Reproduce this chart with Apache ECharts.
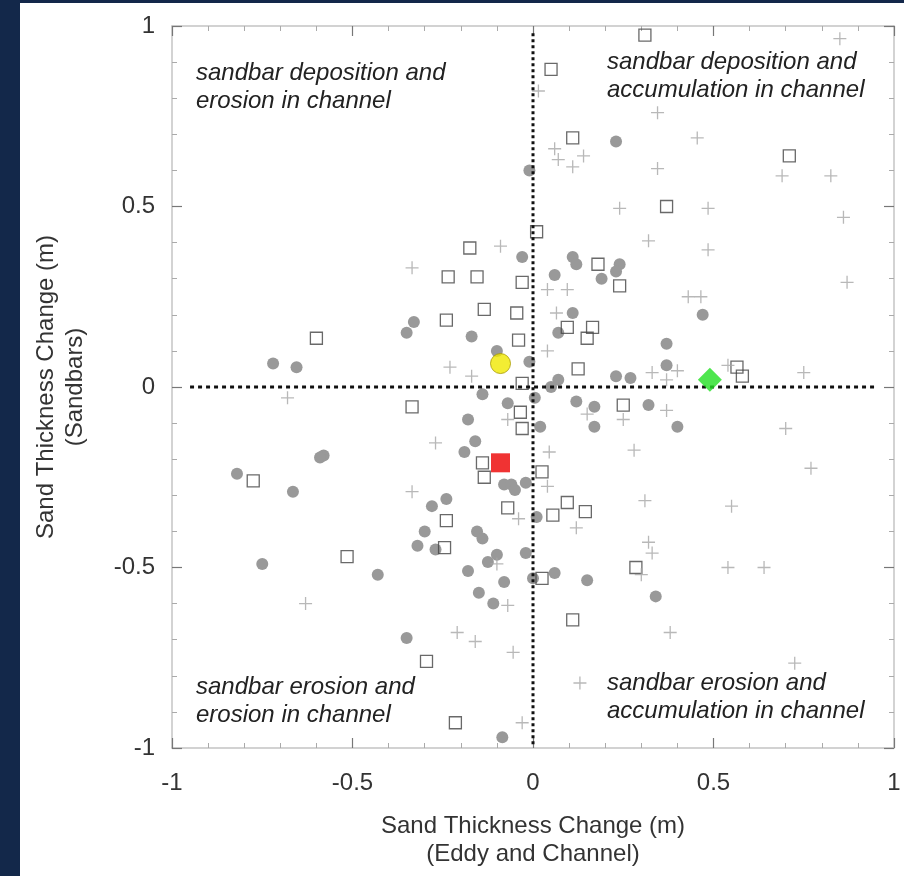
<!DOCTYPE html>
<html><head><meta charset="utf-8">
<script src="https://cdn.jsdelivr.net/npm/echarts/dist/echarts.min.js"></script>
<style>
html,body{margin:0;padding:0;background:#13284a;width:904px;height:876px;overflow:hidden}
#c{position:absolute;left:20px;top:3px;width:884px;height:873px;background:#fff}
</style>
</head><body><div id="c"></div>
<script>
// ---- data (x: eddy & channel change, y: sandbar change), metres ----
const grayCircles = [
 [0.23,0.68],[-0.01,0.60],[-0.03,0.36],[0.11,0.36],[0.12,0.34],[0.06,0.31],[0.19,0.30],[0.24,0.34],[0.23,0.32],
 [0.47,0.20],[0.37,0.12],[0.37,0.06],[0.23,0.03],[0.27,0.025],[0.32,-0.05],[0.40,-0.11],[0.34,-0.58],[0.11,0.205],
 [-0.33,0.18],[-0.35,0.15],[-0.17,0.14],[0.07,0.15],[-0.655,0.055],[-0.72,0.065],[-0.10,0.10],[-0.01,0.07],
 [0.07,0.02],[0.05,0.00],[-0.14,-0.02],[-0.07,-0.045],[0.005,-0.03],[0.12,-0.04],[0.17,-0.055],[-0.18,-0.09],
 [0.02,-0.11],[0.17,-0.11],[-0.16,-0.15],[-0.58,-0.19],[-0.59,-0.195],[-0.19,-0.18],[-0.08,-0.27],[-0.06,-0.27],
 [-0.05,-0.285],[-0.02,-0.265],[-0.28,-0.33],[-0.24,-0.31],[0.01,-0.36],[-0.30,-0.40],[-0.155,-0.40],[-0.14,-0.42],
 [-0.32,-0.44],[-0.27,-0.45],[-0.02,-0.46],[-0.125,-0.485],[-0.10,-0.465],[-0.18,-0.51],[-0.43,-0.52],[0.00,-0.53],
 [0.06,-0.515],[0.15,-0.535],[-0.08,-0.54],[-0.15,-0.57],[-0.11,-0.60],[-0.82,-0.24],[-0.665,-0.29],[-0.75,-0.49],
 [-0.35,-0.695],[-0.085,-0.97]
];
const openSquares = [
 [0.05,0.88],[0.11,0.69],[0.01,0.43],[-0.175,0.385],[-0.235,0.305],[-0.155,0.305],[-0.03,0.29],[0.18,0.34],
 [0.31,0.975],[0.71,0.64],[0.37,0.50],[0.24,0.28],[0.58,0.03],[0.565,0.055],[0.25,-0.05],[0.285,-0.50],
 [-0.135,0.215],[-0.045,0.205],[-0.24,0.185],[-0.60,0.135],[-0.04,0.13],[0.095,0.165],[0.15,0.135],[0.165,0.165],
 [0.125,0.05],[-0.03,0.01],[-0.335,-0.055],[-0.035,-0.07],[-0.03,-0.115],[-0.14,-0.21],[-0.135,-0.25],[0.025,-0.235],
 [-0.07,-0.335],[0.095,-0.32],[0.145,-0.345],[0.055,-0.355],[-0.24,-0.37],[-0.245,-0.445],[-0.515,-0.47],
 [0.025,-0.53],[-0.775,-0.26],[-0.295,-0.76],[-0.215,-0.93],[0.11,-0.645]
];
const plusSigns = [
 [0.015,0.82],[0.06,0.66],[0.07,0.63],[0.14,0.64],[0.11,0.61],[-0.09,0.39],[-0.335,0.33],[0.04,0.27],[0.095,0.27],
 [0.85,0.965],[0.345,0.76],[0.455,0.69],[0.345,0.605],[0.69,0.585],[0.825,0.585],[0.24,0.495],[0.485,0.495],
 [0.86,0.47],[0.32,0.405],[0.485,0.38],[0.43,0.25],[0.465,0.25],[0.87,0.29],[0.37,0.02],[0.40,0.045],[0.33,0.04],
 [0.54,0.06],[0.75,0.04],[0.37,-0.065],[0.25,-0.09],[0.70,-0.115],[0.28,-0.175],[0.77,-0.225],[0.31,-0.315],
 [0.55,-0.33],[0.32,-0.43],[0.33,-0.46],[0.30,-0.52],[0.54,-0.50],[0.64,-0.50],[0.065,0.205],[0.04,0.10],
 [-0.23,0.055],[-0.17,0.03],[-0.07,-0.09],[0.15,-0.075],[-0.27,-0.155],[0.045,-0.18],[0.04,-0.275],[-0.335,-0.29],
 [-0.04,-0.365],[0.12,-0.39],[-0.10,-0.49],[-0.68,-0.03],[-0.07,-0.605],[-0.21,-0.68],[-0.16,-0.705],[-0.055,-0.735],
 [0.13,-0.82],[-0.03,-0.93],[-0.63,-0.60],[0.38,-0.68],[0.725,-0.765]
];
const yellowMean = [[-0.09,0.065]];
const redMean = [[-0.09,-0.21]];
const greenMean = [[0.49,0.02]];
const zeroLineH = [[-0.95,0],[0.945,0]];
const zeroLineV = [[0,0.98],[0,-0.99]];
const xTitle = 'Sand Thickness Change (m)\n(Eddy and Channel)';
const yTitle = 'Sand Thickness Change (m)\n(Sandbars)';
const quadrantText = [
 'sandbar deposition and\nerosion in channel',
 'sandbar deposition and\naccumulation in channel',
 'sandbar erosion and\nerosion in channel',
 'sandbar erosion and\naccumulation in channel'
];

const FONT = '"Liberation Sans", Arial, Helvetica, sans-serif';
const chart = echarts.init(document.getElementById('c'), null, {renderer:'canvas'});
const axisBase = {
  type:'value', min:-1, max:1, interval:0.5,
  axisLine:{show:true, onZero:false, lineStyle:{color:'#c4c4c4', width:1.5}},
  axisTick:{show:true, inside:true, length:10, lineStyle:{color:'#777', width:1.2}},
  minorTick:{show:true, splitNumber:5, length:5, lineStyle:{color:'#aaa', width:1}},
  splitLine:{show:false}
};
const plusPath = 'path://M0,5L10,5M5,0L5,10';
const qPos = [[176,56],[587,45],[176,670],[587,666]];

chart.setOption({
  backgroundColor:'#fff',
  animation:false,
  textStyle:{fontFamily:FONT},
  grid:{left:152, right:10, top:23, bottom:128},
  xAxis:[
    Object.assign({}, axisBase, {position:'bottom',
      name:xTitle, nameLocation:'middle', nameGap:64,
      nameTextStyle:{fontSize:24, color:'#333', lineHeight:28, fontFamily:FONT},
      axisLabel:{fontSize:24, color:'#333', margin:23, fontFamily:FONT}}),
    Object.assign({}, axisBase, {position:'top', axisLabel:{show:false}})
  ],
  yAxis:[
    Object.assign({}, axisBase, {position:'left',
      name:yTitle, nameLocation:'middle', nameGap:82,
      nameTextStyle:{fontSize:24, color:'#333', lineHeight:29, fontFamily:FONT},
      axisLabel:{fontSize:24, color:'#333', margin:17, fontFamily:FONT}}),
    Object.assign({}, axisBase, {position:'right', axisLabel:{show:false}})
  ],
  graphic: quadrantText.map((t,i)=>({
    type:'text', left:qPos[i][0], top:qPos[i][1], z:10,
    style:{text:t, font:'italic 24px '+FONT, fill:'#222', lineHeight:28}
  })),
  series:[
    {type:'scatter', data:grayCircles, symbol:'circle', symbolSize:12, z:2,
     itemStyle:{color:'#999999', opacity:1}},
    {type:'scatter', data:openSquares, symbol:'rect', symbolSize:12, z:3,
     itemStyle:{color:'rgba(255,255,255,0)', borderColor:'#444', borderWidth:1.3}},
    {type:'scatter', data:plusSigns, symbol:plusPath, symbolSize:13, z:3,
     itemStyle:{color:'none', borderColor:'#a6a6a6', borderWidth:1.3}},
    {type:'line', data:zeroLineH, symbol:'none', silent:true, z:4,
     lineStyle:{color:'#111', width:3, type:[4,4]}},
    {type:'line', data:zeroLineV, symbol:'none', silent:true, z:4,
     lineStyle:{color:'#111', width:3, type:[3,3]}},
    {type:'scatter', data:yellowMean, symbol:'circle', symbolSize:20, z:6,
     itemStyle:{color:'#f0e800', borderColor:'#a89a00', borderWidth:1}},
    {type:'scatter', data:redMean, symbol:'rect', symbolSize:19, z:6,
     itemStyle:{color:'#ec0000'}},
    {type:'scatter', data:greenMean, symbol:'diamond', symbolSize:[24,24], z:6,
     itemStyle:{color:'#22e022'}}
  ]
});
</script>
</body></html>
